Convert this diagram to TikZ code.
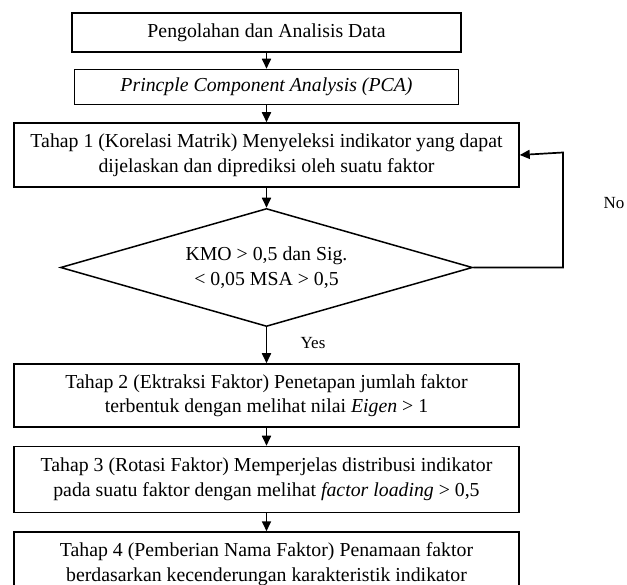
\documentclass[tikz,border=0pt]{standalone}
\usepackage{fontspec}
\setmainfont{Liberation Serif}
\usetikzlibrary{arrows.meta,positioning,shapes.geometric}
\tikzset{
  stepbox/.style={draw,line width=1.5pt,minimum width=505pt,minimum height=64pt,
    inner sep=0pt,align=center,font=\fontsize{19.8}{24.5}\selectfont},
  flow/.style={-{Triangle[length=10pt,width=9pt]},line width=1.7pt},
  tag/.style={font=\fontsize{17}{20}\selectfont,inner sep=0pt}
}

\begin{document}
\begin{tikzpicture}[x=1pt,y=-1pt]
  \useasboundingbox (0,0) rectangle (627,585);
  \clip (0,0) rectangle (627,585);
  % steps
  \node[stepbox,minimum width=389pt,minimum height=39pt] (data) at (266.5,32.5) {Pengolahan dan Analisis Data};
  \node[stepbox,minimum width=384pt,minimum height=35pt,below=16pt of data] (pca) {\textit{Princple Component Analysis (PCA)}};
  \node[stepbox,below=17pt of pca] (tahap1) {Tahap 1 (Korelasi Matrik) Menyeleksi indikator yang dapat\\dijelaskan dan diprediksi oleh suatu faktor};
  \node[diamond,draw,line width=1.5pt,minimum width=412pt,minimum height=118pt,aspect=3.5,
    inner sep=0pt,align=center,font=\fontsize{19.8}{24.5}\selectfont,below=20pt of tahap1] (kmo) {KMO > 0,5 dan Sig.\\< 0,05 MSA > 0,5};
  \node[stepbox,minimum height=63pt,below=36pt of kmo] (tahap2) {Tahap 2 (Ektraksi Faktor) Penetapan jumlah faktor\\terbentuk dengan melihat nilai \textit{Eigen} > 1};
  \node[stepbox,minimum height=66pt,below=18pt of tahap2] (tahap3) {Tahap 3 (Rotasi Faktor) Memperjelas distribusi indikator\\pada suatu faktor dengan melihat \textit{factor loading} > 0,5};
  \node[stepbox,below=18pt of tahap3] (tahap4) {Tahap 4 (Pemberian Nama Faktor) Penamaan faktor\\berdasarkan kecenderungan karakteristik indikator};
  % labels
  \node[tag] (yes) at (313,343) {Yes};
  \node[tag] (no) at (614,203) {No};
  % connectors
  \coordinate (loop) at (563,152.5);
  \draw[flow] (data) -- (pca);
  \draw[flow] (pca) -- (tahap1);
  \draw[flow] (tahap1) -- (kmo);
  \draw[flow] (kmo) -- (tahap2);
  \draw[flow] (tahap2) -- (tahap3);
  \draw[flow] (tahap3) -- (tahap4);
  \draw[flow] (kmo.east) -| (loop) -- (tahap1.east);
\end{tikzpicture}
\end{document}
